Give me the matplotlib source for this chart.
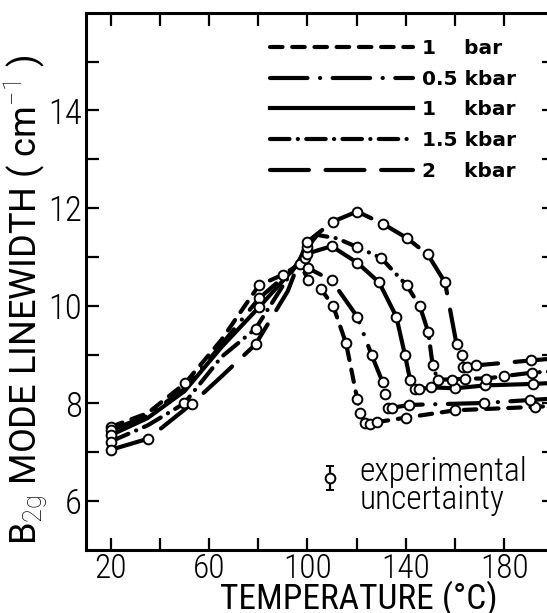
import numpy as np
import matplotlib
matplotlib.use("Agg")
import matplotlib.pyplot as plt
from matplotlib.lines import Line2D

plt.rcParams['font.family'] = ['Roboto Condensed', 'DejaVu Sans']
plt.rcParams['font.weight'] = 'light'
plt.rcParams['mathtext.fontset'] = 'custom'
plt.rcParams['mathtext.rm'] = 'Roboto:light'
plt.rcParams['lines.scale_dashes'] = False

# temperature (C) and B2g linewidth (cm-1)
t_1bar = [20, 35, 50.2, 65, 80.3, 90.2, 97, 100.3, 105.4, 110.5, 115.7, 120.2, 121.3, 123.4, 125.5, 128.4, 140, 160, 192.5, 200]
w_1bar = [7.52, 7.8, 8.41, 9.3, 10.42, 10.64, 10.86, 10.53, 10.35, 9.99, 9.23, 8.10, 7.80, 7.60, 7.58, 7.62, 7.71, 7.86, 7.93, 7.95]

t_05 = [20, 35, 50, 65, 80.3, 99, 100.3, 109.8, 120.2, 126.1, 130.6, 131.5, 132.8, 134.2, 141.4, 171.7, 190.4, 200]
w_05 = [7.45, 7.75, 8.3, 9.2, 10.15, 10.97, 10.77, 10.52, 9.78, 8.99, 8.43, 8.20, 7.91, 7.91, 7.97, 8.01, 8.07, 8.10]

t_1k = [20, 35, 50, 65, 80.3, 100, 109.8, 120.3, 129.1, 136.1, 139.6, 141.7, 143.7, 145.4, 150.3, 160, 172.2, 191.6, 200]
w_1k = [7.35, 7.7, 8.25, 9.15, 9.97, 11.07, 11.22, 10.88, 10.48, 9.78, 9.0, 8.49, 8.29, 8.29, 8.33, 8.31, 8.37, 8.40, 8.42]

t_15 = [20, 35, 49.9, 65, 78.9, 100, 104, 112, 120.3, 129.9, 140.3, 145.7, 149.1, 150.9, 152.9, 158.6, 164, 172.6, 180, 191.1, 200]
w_15 = [7.22, 7.55, 8.0, 8.95, 9.53, 11.2, 11.45, 11.38, 11.20, 10.98, 10.42, 9.99, 9.46, 8.78, 8.49, 8.49, 8.51, 8.51, 8.56, 8.63, 8.66]

t_2k = [20, 35.3, 52.9, 65, 78.9, 92, 99.7, 110.2, 120.2, 130.6, 140.3, 148.9, 155.9, 160.6, 162.9, 163.3, 164.7, 168.5, 190.7, 200]
w_2k = [7.05, 7.28, 7.99, 8.55, 9.21, 10.3, 11.30, 11.72, 11.93, 11.68, 11.39, 11.05, 10.48, 9.21, 8.99, 8.75, 8.74, 8.78, 8.88, 8.92]

# which points carry an open circle
circ_1bar = [0, 2, 4, 5, 6, 7, 8, 9, 10, 11, 12, 13, 14, 15, 16, 17, 18]
circ_05 = [0, 4, 5, 6, 7, 8, 9, 10, 11, 12, 13, 14, 15, 16]
circ_1k = [0, 4, 5, 6, 7, 8, 9, 10, 11, 12, 13, 14, 15, 16, 17]
circ_15 = [0, 2, 4, 5, 8, 9, 10, 11, 12, 13, 14, 15, 16, 17, 18, 19]
circ_2k = [0, 1, 2, 4, 6, 7, 8, 9, 10, 11, 12, 13, 14, 15, 16, 17, 18]

labels = ['1    bar', '0.5 kbar', '1    kbar', '1.5 kbar', '2    kbar']

unc_t = [109]
unc_w = [6.47]
unc_err = [0.25]

styles = [(0, (9, 7)), (0, (27, 9, 0.1, 9)), '-', (0, (14, 6, 0.1, 6)), (0, (28, 12))]
series = [(t_1bar, w_1bar, circ_1bar), (t_05, w_05, circ_05), (t_1k, w_1k, circ_1k),
          (t_15, w_15, circ_15), (t_2k, w_2k, circ_2k)]

fig = plt.figure(figsize=(5.47, 6.13), dpi=100)
ax = fig.add_axes([86 / 547, 63 / 613, 467.5 / 547, 537.3 / 613])

for (t, w, c), ls in zip(series, styles):
    ax.plot(t, w, color='black', lw=3, ls=ls, dash_capstyle='round',
            solid_capstyle='round', zorder=2)
for t, w, c in series:
    ax.plot(np.array(t)[c], np.array(w)[c], ls='none', marker='o', ms=7,
            mfc='white', mec='black', mew=1.4, zorder=3)

ax.errorbar(unc_t, unc_w, yerr=unc_err, fmt='o', ms=7, mfc='white', mec='black',
            mew=1.4, ecolor='black', elinewidth=1.6, capsize=3, capthick=1.6)
ax.text(121.3, 6.31, 'experimental\nuncertainty', fontsize=24, va='center',
        ha='left', linespacing=0.85)

handles = [Line2D([], [], color='black', lw=3, ls=ls, dash_capstyle='round') for ls in styles]
leg = ax.legend(handles, labels, loc='upper left', frameon=False,
                bbox_to_anchor=(270 / 547, 1 - 39 / 613), bbox_transform=fig.transFigure,
                borderpad=0, borderaxespad=0, handlelength=7.1, handletextpad=0.45,
                labelspacing=0.58, prop={'family': 'DejaVu Sans', 'weight': 'bold', 'size': 14.5})

ax.set_xlim(10, 200)
ax.set_ylim(5, 16)
ax.set_xticks([20, 60, 100, 140, 180])
ax.set_xticks([40, 80, 120, 160, 200], minor=True)
ax.set_yticks([6, 8, 10, 12, 14])
ax.set_yticks([7, 9, 11, 13, 15], minor=True)
ax.tick_params(which='both', direction='in', length=9, width=1.6,
               top=True, right=True, labelsize=25)
ax.tick_params(axis='x', pad=2, labelsize=24)
ax.tick_params(axis='y', pad=3)
for s in ax.spines.values():
    s.set_linewidth(2.2)

ax.set_xlabel('TEMPERATURE (°C)', fontsize=25.5)
ax.xaxis.set_label_coords(0.584, -0.057)
ax.set_ylabel(r'B$_{\mathrm{2g}}$ MODE LINEWIDTH ( cm$^{\mathrm{-1}}$ )', fontsize=26,
              family=['Roboto', 'DejaVu Sans'])
ax.yaxis.set_label_coords(-0.078, 0.465)

fig.savefig('out.png', dpi=100)
